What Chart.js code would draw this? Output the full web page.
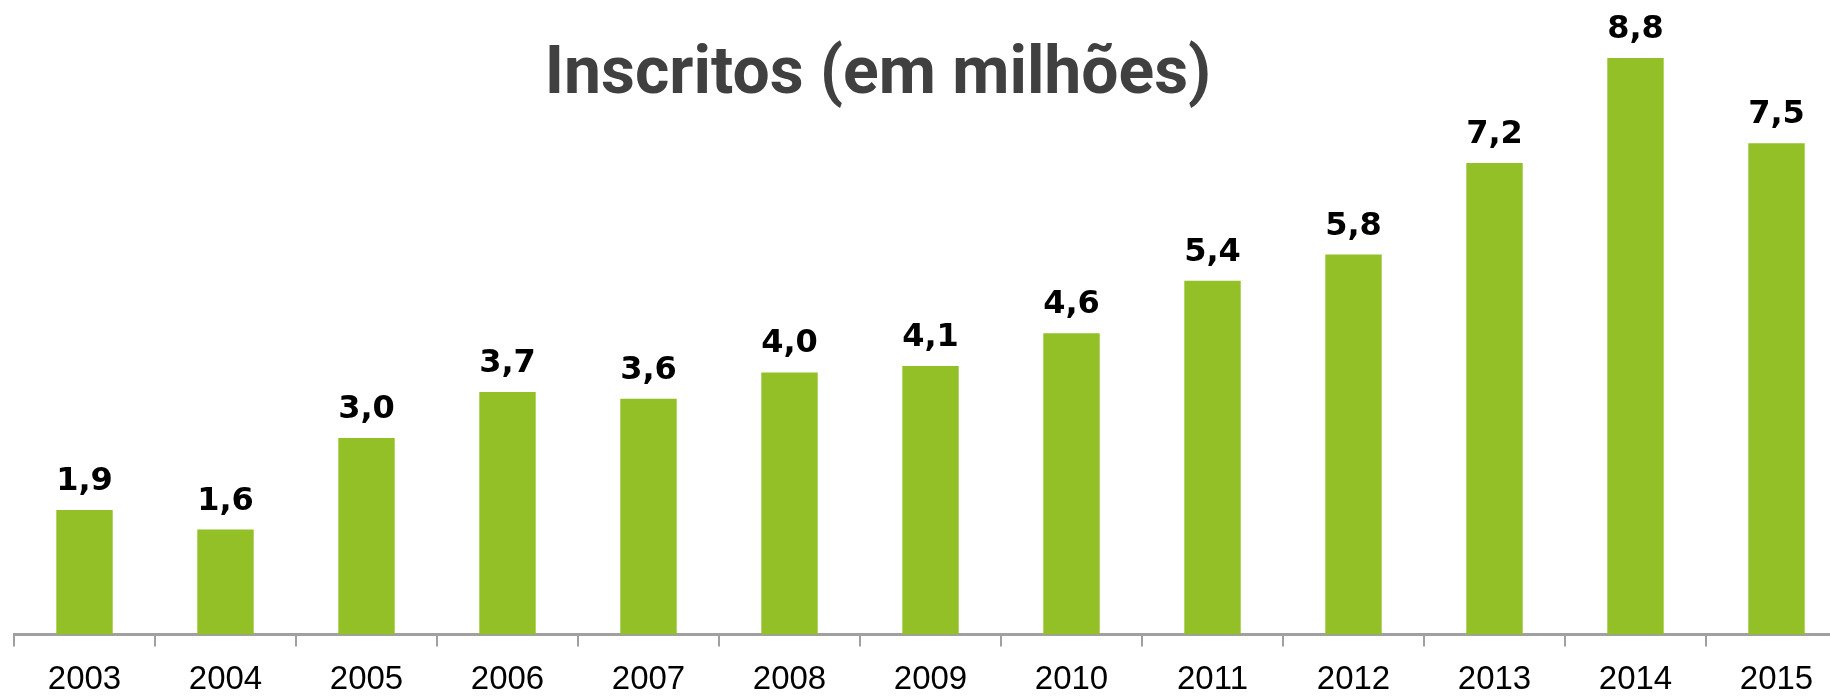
<!DOCTYPE html>
<html>
<head>
<meta charset="utf-8">
<script src="https://cdn.jsdelivr.net/npm/chart.js@4/dist/chart.umd.min.js"></script>
<style>
  html, body { margin: 0; padding: 0; overflow: hidden; background: #fff; }
  #wrap { position: relative; width: 1848px; height: 714px; }
</style>
</head>
<body>
<div id="wrap"><canvas id="inscritos"></canvas></div>
<script>
const years = ["2003", "2004", "2005", "2006", "2007", "2008", "2009", "2010", "2011", "2012", "2013", "2014", "2015"];
const inscritos = [1.9, 1.6, 3.0, 3.7, 3.6, 4.0, 4.1, 4.6, 5.4, 5.8, 7.2, 8.8, 7.5];
const titleText = "Inscritos (em milhões)";

// value labels above bars + title drawn over the plot
const labelPlugin = {
  id: "barLabels",
  afterDatasetsDraw(chart) {
    const ctx = chart.ctx;
    const meta = chart.getDatasetMeta(0);
    ctx.save();
    ctx.font = "bold 32px 'DejaVu Sans'";
    ctx.fillStyle = "#000";
    ctx.textAlign = "center";
    ctx.textBaseline = "alphabetic";
    meta.data.forEach((bar, i) => {
      const txt = inscritos[i].toFixed(1).replace(".", ",");
      ctx.fillText(txt, bar.x, bar.y - 20);
    });
    ctx.font = "bold 66px Roboto, sans-serif";
    ctx.fillStyle = "#404040";
    ctx.fillText(titleText, 878, 93);
    ctx.restore();
  },
};

const ctx = document.getElementById("inscritos").getContext("2d");
const chart = new Chart(ctx, {
  type: "bar",
  data: {
    labels: years,
    datasets: [
      {
        data: inscritos,
        backgroundColor: "#92c026",
        borderWidth: 0,
        categoryPercentage: 1,
        barPercentage: 0.4,
      },
    ],
  },
  plugins: [labelPlugin],
  options: {
    responsive: true,
    maintainAspectRatio: false,
    animation: false,
    layout: {
      padding: { left: 14, right: 1, top: 45, bottom: 0 },
    },
    plugins: {
      legend: { display: false },
      title: { display: false },
      tooltip: { enabled: false },
    },
    scales: {
      x: {
        grid: {
          display: true,
          drawOnChartArea: false,
          drawTicks: true,
          tickLength: 12,
          color: "#a0a0a0",
          lineWidth: 2,
        },
        border: { display: true, color: "#a0a0a0", width: 3 },
        ticks: {
          color: "#000",
          padding: 14,
          font: { family: "'Liberation Sans'", size: 33 },
        },
      },
      y: {
        display: false,
        min: 0,
        max: 9,
      },
    },
  },
});
</script>
</body>
</html>
